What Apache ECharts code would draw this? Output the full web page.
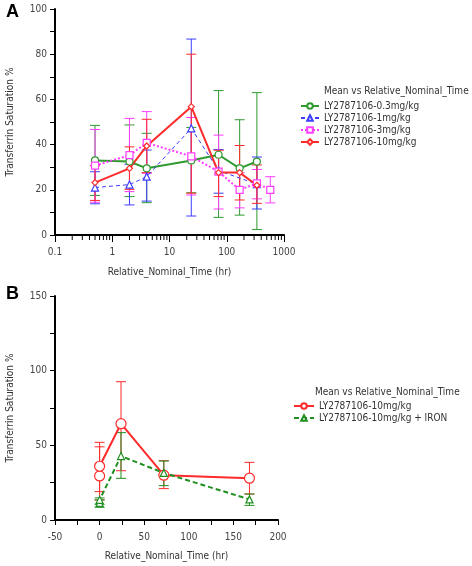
<!DOCTYPE html>
<html><head><meta charset="utf-8">
<script src="https://cdn.jsdelivr.net/npm/echarts@6/dist/echarts.min.js"></script>
<style>html,body{margin:0;padding:0;background:#fff}#c{width:472px;height:566px}</style>
</head><body><div id="c"></div>
<script>
// ---------- Panel A data ----------
const namesA = ['LY2787106-0.3mg/kg','LY2787106-1mg/kg','LY2787106-3mg/kg','LY2787106-10mg/kg'];
const t03 = [0.5, 2, 4, 24, 72, 168, 336];
const m03 = [33, 32.5, 29.5, 33, 35.5, 29.5, 32.5];
const lo03 = [17.5, 17, 14.3, 18.7, 7.8, 8.8, 2.4];
const hi03 = [48.5, 48.7, 45, 47.6, 63.9, 51, 63];

const t1 = [0.5, 2, 4, 24, 72, 336];
const m1 = [21, 22.3, 25.8, 47.2, 28.5, 22.5];
const lo1 = [13.8, 13.3, 15, 8.4, 18.5, 11.5];
const hi1 = [28, 31.3, 37.6, 86.7, 37.8, 34.5];

const t3 = [0.5, 2, 4, 24, 72, 168, 336, 576];
const m3 = [30.7, 35.3, 40.8, 34.8, 28, 20, 22.8, 20];
const lo3 = [14.5, 19.2, 27.3, 17.7, 11.5, 12, 16, 14.2];
const hi3 = [46.7, 51.6, 54.6, 52, 44.2, 27.5, 29, 25.8];

const t10 = [0.5, 2, 4, 24, 72, 168, 336];
const m10 = [23.2, 29.5, 39.4, 56.8, 27.6, 27.6, 22];
const lo10 = [15.3, 20.2, 27.6, 18.5, 17, 15.5, 14];
const hi10 = [30.7, 39, 51.2, 80, 37.5, 39.6, 31];

const xTicksA = [0.1, 1, 10, 100, 1000];
const minorTicksA = [0.2,0.3,0.4,0.5,0.6,0.7,0.8,0.9, 2,3,4,5,6,7,8,9, 20,30,40,50,60,70,80,90, 200,300,400,500,600,700,800,900];

// ---------- Panel B data ----------
const namesB = ['LY2787106-10mg/kg ', 'LY2787106-10mg/kg + IRON'];
const tB = [0, 0, 24, 72, 168];
const mB10 = [29.5, 36, 64.5, 30, 28];
const loB10 = [13.4, 19, 33, 21, 17.4];
const hiB10 = [49, 52, 92.6, 39.7, 38.6];
const mBIron = [11.5, 13.5, 42.8, 31.5, 13.8];
const loBIron = [8.5, 10.5, 27.9, 23, 9.8];
const hiBIron = [13.5, 14.8, 58.5, 39.5, 17.4];

const legendTitle = 'Mean vs Relative_Nominal_Time';
const xName = 'Relative_Nominal_Time (hr)';
const yName = 'Transferrin Saturation %';

const FONT = '"DejaVu Sans Condensed","Liberation Sans",sans-serif';
const cGreen = '#2f9a2f', cBlue = '#3c3cff', cMag = '#ff3cff', cRed = '#ff2a2a', cGreenB = '#1f8f1f';

const pairs = (t, v) => t.map((x, i) => [x, v[i]]);
const errData = (t, lo, hi) => t.map((x, i) => [x, lo[i], hi[i]]);

function errSeries(name, gi, t, lo, hi, color) {
  return {
    type: 'custom', name, xAxisIndex: gi, yAxisIndex: gi, z: 1, silent: true,
    data: errData(t, lo, hi), encode: { x: 0, y: [1, 2] },
    renderItem(params, api) {
      const a = api.coord([api.value(0), api.value(1)]);
      const b = api.coord([api.value(0), api.value(2)]);
      const w = 5;
      const st = { stroke: color, lineWidth: 1 };
      return { type: 'group', children: [
        { type: 'line', shape: { x1: a[0], y1: a[1], x2: b[0], y2: b[1] }, style: st },
        { type: 'line', shape: { x1: a[0]-w, y1: a[1], x2: a[0]+w, y2: a[1] }, style: st },
        { type: 'line', shape: { x1: b[0]-w, y1: b[1], x2: b[0]+w, y2: b[1] }, style: st }
      ]};
    }
  };
}

function lineSeries(name, gi, t, m, color, lineType, width, symbol, size) {
  return {
    type: 'line', name, xAxisIndex: gi, yAxisIndex: gi, z: 3,
    data: pairs(t, m), symbol, symbolSize: size, showSymbol: true,
    lineStyle: { color, width, type: lineType },
    itemStyle: { color: '#fff', borderColor: color, borderWidth: 1.2 },
    emphasis: { disabled: true }, animation: false
  };
}

const axisCommon = {
  axisLine: { show: true, onZero: false, lineStyle: { color: '#000', width: 2 } },
  axisTick: { show: true, inside: false, length: 5, lineStyle: { color: '#000', width: 1 } },
  axisLabel: { color: '#444', fontSize: 10, fontFamily: FONT },
  splitLine: { show: false },
  nameTextStyle: { color: '#333', fontSize: 10, fontFamily: FONT }
};

const option = {
  animation: false,
  backgroundColor: '#fff',
  textStyle: { fontFamily: FONT },
  title: [
    { text: 'A', left: 1, top: -2, textStyle: { fontSize: 18, fontWeight: 'bold', color: '#000', fontFamily: '"Liberation Sans",Arial,sans-serif' } },
    { text: 'B', left: 1, top: 280, textStyle: { fontSize: 18, fontWeight: 'bold', color: '#000', fontFamily: '"Liberation Sans",Arial,sans-serif' } }
  ],
  graphic: [
    { type: 'text', left: 324, top: 86, style: { text: legendTitle, font: '10px ' + FONT, fill: '#333' } },
    { type: 'text', left: 315, top: 387, style: { text: legendTitle, font: '10px ' + FONT, fill: '#333' } }
  ],
  legend: [
    { data: namesA, orient: 'vertical', left: 300, top: 101, itemWidth: 18, itemHeight: 7, itemGap: 2, padding: 0,
      textStyle: { fontSize: 10, color: '#333', fontFamily: FONT }, selectedMode: false },
    { data: namesB, orient: 'vertical', left: 293, top: 401, itemWidth: 20, itemHeight: 7, itemGap: 2, padding: 0,
      textStyle: { fontSize: 10, color: '#333', fontFamily: FONT }, selectedMode: false }
  ],
  grid: [
    { left: 55, right: 188, top: 9, bottom: 331 },
    { left: 55, right: 194, top: 296, bottom: 46 }
  ],
  xAxis: [
    Object.assign({}, axisCommon, {
      gridIndex: 0, type: 'log', logBase: 10, min: 0.1, max: 1000,
      name: xName, nameLocation: 'middle', nameGap: 32,
      axisTick: { show: true, length: 7, lineStyle: { color: '#000', width: 1 } },
      axisLabel: Object.assign({}, axisCommon.axisLabel, { margin: 12, formatter: v => String(v) })
    }),
    Object.assign({}, axisCommon, {
      gridIndex: 1, type: 'value', min: -50, max: 200, interval: 25,
      name: xName, nameLocation: 'middle', nameGap: 31,
      axisLabel: Object.assign({}, axisCommon.axisLabel, { margin: 12, formatter: v => (v % 50 === 0 ? String(v) : '') })
    })
  ],
  yAxis: [
    Object.assign({}, axisCommon, {
      gridIndex: 0, type: 'value', min: 0, max: 100, interval: 10,
      name: yName, nameLocation: 'middle', nameGap: 40,
      axisLabel: Object.assign({}, axisCommon.axisLabel, { margin: 8, formatter: v => (v % 20 === 0 ? String(v) : '') })
    }),
    Object.assign({}, axisCommon, {
      gridIndex: 1, type: 'value', min: 0, max: 150, interval: 25,
      name: yName, nameLocation: 'middle', nameGap: 40,
      axisLabel: Object.assign({}, axisCommon.axisLabel, { margin: 8, formatter: v => (v % 50 === 0 ? String(v) : '') })
    })
  ],
  series: [
    {
      type: 'custom', name: 'minorTicksA', xAxisIndex: 0, yAxisIndex: 0, silent: true, clip: false, z: 5,
      data: minorTicksA.map(v => [v, 0]), encode: { x: 0, y: 1 },
      renderItem(params, api) {
        const p = api.coord([api.value(0), 0]);
        return { type: 'line', shape: { x1: p[0], y1: p[1], x2: p[0], y2: p[1] + 5 }, style: { stroke: '#000', lineWidth: 1 } };
      }
    },
    errSeries('errA03', 0, t03, lo03, hi03, cGreen),
    errSeries('errA1', 0, t1, lo1, hi1, cBlue),
    errSeries('errA3', 0, t3, lo3, hi3, cMag),
    errSeries('errA10', 0, t10, lo10, hi10, cRed),
    lineSeries(namesA[0], 0, t03, m03, cGreen, 'solid', 2, 'circle', 7),
    lineSeries(namesA[1], 0, t1, m1, cBlue, [4, 3], 1, 'triangle', 7),
    lineSeries(namesA[2], 0, t3, m3, cMag, [2, 2], 2, 'rect', 7),
    lineSeries(namesA[3], 0, t10, m10, cRed, 'solid', 2, 'diamond', 6),
    errSeries('errB10', 1, tB, loB10, hiB10, cRed),
    errSeries('errBIron', 1, tB, loBIron, hiBIron, cGreenB),
    lineSeries(namesB[0], 1, tB, mB10, cRed, 'solid', 2, 'circle', 10),
    lineSeries(namesB[1], 1, tB, mBIron, cGreenB, [5, 3], 2, 'triangle', 7)
  ]
};

const chart = echarts.init(document.getElementById('c'), null, { renderer: 'canvas' });
chart.setOption(option);
</script>
</body></html>
